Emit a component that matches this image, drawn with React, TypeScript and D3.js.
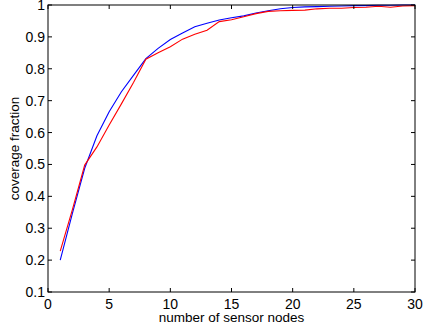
import { useEffect, useRef } from "react"
import * as d3 from "d3"

// number of sensor nodes
const nodes = d3.range(1, 31)

// coverage fraction, blue series
const blueCoverage = [
  0.200, 0.347, 0.488, 0.590, 0.665, 0.728, 0.780, 0.832, 0.864, 0.892,
  0.912, 0.932, 0.943, 0.953, 0.960, 0.966, 0.975, 0.982, 0.988, 0.992,
  0.994, 0.995, 0.996, 0.997, 0.998, 0.998, 0.999, 0.999, 1.000, 1.000,
]

// coverage fraction, red series
const redCoverage = [
  0.228, 0.359, 0.498, 0.555, 0.624, 0.690, 0.758, 0.830, 0.850, 0.869,
  0.893, 0.908, 0.921, 0.948, 0.954, 0.963, 0.973, 0.980, 0.982, 0.983,
  0.984, 0.988, 0.990, 0.990, 0.992, 0.993, 0.996, 0.993, 0.997, 0.998,
]

const xTicks = [0, 5, 10, 15, 20, 25, 30]
const yTicks = [0.1, 0.2, 0.3, 0.4, 0.5, 0.6, 0.7, 0.8, 0.9, 1]

const W = 429
const H = 331
const margin = { top: 5, right: 14, bottom: 39, left: 48 }
const FONT = "'Liberation Sans', Arial, Helvetica, sans-serif"

export default function App() {
  const svgRef = useRef<SVGSVGElement>(null)

  useEffect(() => {
    if (!svgRef.current) return
    const svg = d3.select(svgRef.current)
    svg.selectAll("*").remove()

    const x = d3.scaleLinear().domain([0, 30]).range([margin.left, W - margin.right])
    const y = d3.scaleLinear().domain([0.1, 1]).range([H - margin.bottom, margin.top])

    const [x0, x1] = x.range()
    const [y0, y1] = y.range()
    const tick = 4

    // series
    const line = d3.line<number>()
      .x((_, i) => x(nodes[i]))
      .y(d => y(d))

    svg.append("path")
      .attr("d", line(blueCoverage))
      .attr("fill", "none")
      .attr("stroke", "#0000ff")
      .attr("stroke-width", 1.1)

    svg.append("path")
      .attr("d", line(redCoverage))
      .attr("fill", "none")
      .attr("stroke", "#ff0000")
      .attr("stroke-width", 1.1)

    // box
    svg.append("rect")
      .attr("x", x0).attr("y", y1)
      .attr("width", x1 - x0).attr("height", y0 - y1)
      .attr("fill", "none").attr("stroke", "#000").attr("stroke-width", 1)

    // x ticks (inward, bottom and top)
    const xt = svg.append("g")
    xTicks.forEach(t => {
      const px = x(t)
      xt.append("line").attr("x1", px).attr("x2", px).attr("y1", y0).attr("y2", y0 - tick).attr("stroke", "#000")
      xt.append("line").attr("x1", px).attr("x2", px).attr("y1", y1).attr("y2", y1 + tick).attr("stroke", "#000")
      xt.append("text")
        .attr("x", px).attr("y", y0 + 17)
        .attr("text-anchor", "middle")
        .attr("font-family", FONT).attr("font-size", 14)
        .text(t)
    })

    // y ticks (inward, left and right)
    const yt = svg.append("g")
    yTicks.forEach(t => {
      const py = y(t)
      yt.append("line").attr("x1", x0).attr("x2", x0 + tick).attr("y1", py).attr("y2", py).attr("stroke", "#000")
      yt.append("line").attr("x1", x1).attr("x2", x1 - tick).attr("y1", py).attr("y2", py).attr("stroke", "#000")
      yt.append("text")
        .attr("x", x0 - 3).attr("y", py).attr("dy", "0.36em")
        .attr("text-anchor", "end")
        .attr("font-family", FONT).attr("font-size", 14)
        .text(d3.format("~g")(t))
    })

    // axis labels
    svg.append("text")
      .attr("x", (x0 + x1) / 2).attr("y", H - 9)
      .attr("text-anchor", "middle")
      .attr("font-family", FONT).attr("font-size", 13.5)
      .text("number of sensor nodes")

    svg.append("text")
      .attr("transform", `translate(19,${(y0 + y1) / 2}) rotate(-90)`)
      .attr("text-anchor", "middle")
      .attr("font-family", FONT).attr("font-size", 13.5)
      .text("coverage fraction")
  }, [])

  return (
    <svg
      ref={svgRef}
      width={W}
      height={H}
      style={{ position: "absolute", left: 0, top: 0, background: "#fff" }}
    />
  )
}
